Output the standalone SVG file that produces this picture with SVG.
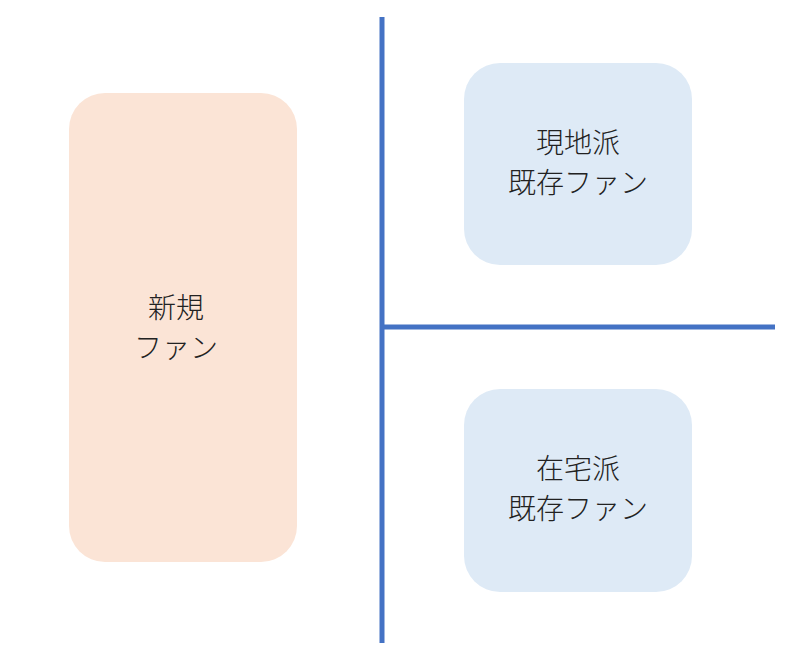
<svg xmlns="http://www.w3.org/2000/svg" width="800" height="664" viewBox="0 0 800 664">
<style>
.t{font-family:"Noto Sans CJK JP",sans-serif;font-size:28px;fill:#222;text-anchor:middle;font-weight:300}
.b{fill:#deeaf6}
.l{stroke:#4472c4;stroke-width:5;fill:none}
</style>
<rect width="800" height="664" fill="#fff"/>
<g id="new"><rect x="69" y="93" width="228" height="469" rx="36" fill="#fbe4d6"/>
<text class="t" x="176" y="318">新規</text><text class="t" x="176" y="358">ファン</text></g>
<g id="local"><rect class="b" x="464" y="63" width="228" height="202" rx="36"/>
<text class="t" x="578" y="153">現地派</text><text class="t" x="578" y="193">既存ファン</text></g>
<g id="home"><rect class="b" x="464" y="389" width="228" height="203" rx="36"/>
<text class="t" x="578" y="479">在宅派</text><text class="t" x="578" y="519">既存ファン</text></g>
<g id="connectors"><line class="l" x1="382" y1="17" x2="382" y2="643"/><line class="l" x1="382" y1="327" x2="775" y2="327"/></g>
</svg>
